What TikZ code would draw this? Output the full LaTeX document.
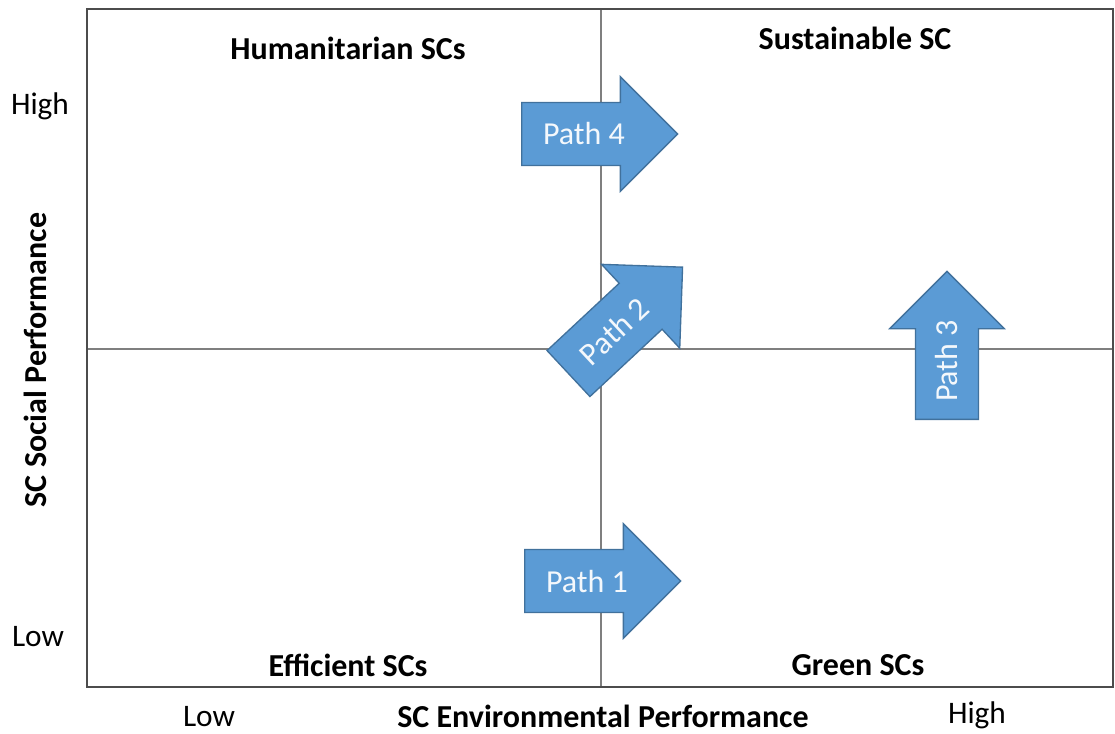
\documentclass[tikz,border=0pt]{standalone}
\usepackage{fontspec}
\setmainfont{Carlito}
\usetikzlibrary{shapes.arrows}

\definecolor{pathfill}{HTML}{5B9BD5}
\definecolor{pathline}{HTML}{41719C}
\definecolor{gridline}{HTML}{7F7F7F}

\tikzset{
  quadlabel/.style={font=\fontsize{24}{28}\selectfont\bfseries, inner sep=0pt},
  axislabel/.style={font=\fontsize{23.5}{28}\selectfont, inner sep=0pt},
  patharrow/.style={single arrow, draw=pathline, line width=1pt, fill=pathfill,
    text=white!93!pathfill, font=\fontsize{24}{28}\selectfont,
    minimum height=117pt, minimum width=86pt, single arrow head extend=9pt,
    single arrow head indent=0pt, inner sep=2pt, anchor=tail}
}

\begin{document}
\begin{tikzpicture}[x=0.75pt, y=-0.75pt]
\useasboundingbox (0, 0) rectangle (1115, 733);

\coordinate (tl) at (87, 9);
\coordinate (br) at (1113, 687);
\coordinate (top) at (601, 9);
\coordinate (bottom) at (601, 687);
\coordinate (left) at (87, 349);
\coordinate (right) at (1113, 349);

\draw[gridline, line width=1pt] (top) -- (bottom);
\draw[gridline, line width=1pt] (left) -- (right);
\draw[black!70, line width=1.5pt] (tl) rectangle (br);

\node[quadlabel] (human) at (348, 48) {Humanitarian SCs};
\node[quadlabel] (sustain) at (855, 38) {Sustainable SC};
\node[quadlabel] (efficient) at (348, 665) {Efficient SCs};
\node[quadlabel] (green) at (858, 665) {Green SCs};

\node[axislabel] (yhigh) at (40, 106) {High};
\node[axislabel] (ylow) at (38, 637) {Low};
\node[axislabel] (xlow) at (209, 717) {Low};
\node[axislabel] (xhigh) at (977, 715) {High};
\node[quadlabel] (xtitle) at (603, 716) {SC Environmental Performance};
\node[quadlabel, rotate=90] (ytitle) at (35, 360) {SC Social Performance};

\node[patharrow] (path4) at (521, 134) {Path 4};
\node[patharrow] (path1) at (524, 581) {Path 1};
\node[patharrow, rotate=43] (path2) at (568, 374) {Path 2};
\node[patharrow, rotate=90, minimum height=111pt] (path3) at (947, 420) {Path 3};

\end{tikzpicture}
\end{document}
